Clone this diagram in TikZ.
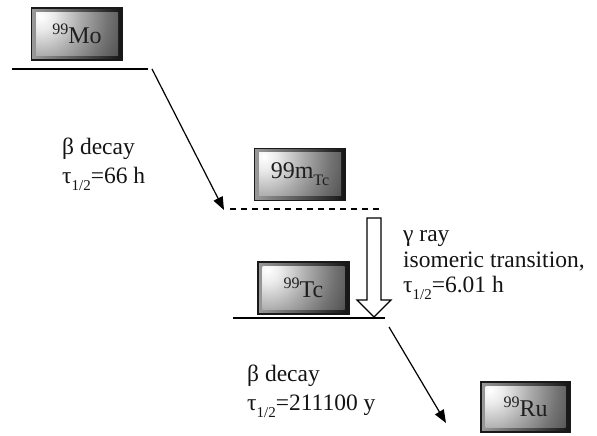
\documentclass[tikz,border=0pt]{standalone}
\usepackage{fontspec}
\setmainfont{Liberation Serif}
\usetikzlibrary{arrows.meta,calc}

% concentric glow for the face of a plate (25bp = radius of the shaded circle)
\pgfdeclareradialshading{plateglow}{\pgfpoint{0bp}{0bp}}{%
  color(0bp)=(white);
  color(3bp)=(black!8);
  color(9bp)=(black!33);
  color(15bp)=(black!55);
  color(21bp)=(black!72);
  color(25bp)=(black!80);
  color(50bp)=(black!80)}

\newcommand\halflife{τ\raisebox{-0.28em}{\fontsize{15}{15}\selectfont 1/2}}
\newcommand\sups[1]{\raisebox{0.36em}{\fontsize{16}{16}\selectfont #1}}
\newcommand\subs[1]{\raisebox{-0.3em}{\fontsize{16}{16}\selectfont #1}}

\begin{document}
\begin{tikzpicture}[x=1pt,y=1pt,
  plate/.style={draw=black!90, line width=1.2pt,
    minimum width=91pt, minimum height=52pt, inner sep=0pt,
    text=black!88, font=\fontsize{24}{24}\selectfont,
    path picture={
      \coordinate (pSW) at (path picture bounding box.south west);
      \coordinate (pNE) at (path picture bounding box.north east);
      \coordinate (pNW) at (path picture bounding box.north west);
      % bevel frame
      \shade[left color=black!40, right color=black!92] (pSW) rectangle (pNE);
      % face
      \begin{scope}
        \clip ($(pSW)+(4.5,4.5)$) rectangle ($(pNE)-(4.5,4.5)$);
        \shade[shading=plateglow] ($(pNW)+(9,-8)$) circle (112);
      \end{scope}
    }},
  level/.style={line width=2.4pt},
  decayarrow/.style={line width=1.2pt, -{Triangle[length=13pt,width=10pt]}},
  note/.style={anchor=base west, align=left, inner sep=0pt, text=black!92}]
\useasboundingbox (0,0) rectangle (597,436);

% nuclide plates
\node[plate] (mo) at (77,402) {\sups{99}Mo};
\node[plate] (tcm) at (300,261.5) {99m\subs{Tc}};
\node[plate] (tc) at (303.5,148) {\sups{99}Tc};
\node[plate, minimum width=89pt, minimum height=50pt] (ru) at (525.5,29) {\sups{99}Ru};

% energy levels
\coordinate (moL) at (12,367);
\coordinate (moR) at (148,367);
\coordinate (tcmL) at (230,227);
\coordinate (tcmR) at (381,227);
\coordinate (tcL) at (233,118);
\coordinate (tcR) at (385,118);
\draw[level] (moL) -- (moR);
\draw[level, dash pattern=on 6pt off 5pt] (tcmL) -- (tcmR);
\draw[level] (tcL) -- (tcR);

% beta decays
\coordinate (b1s) at (152,367);
\coordinate (b1e) at (224,226);
\coordinate (b2s) at (389,109);
\coordinate (b2e) at (446,13);
\draw[decayarrow] (b1s) -- (b1e);
\draw[decayarrow] (b2s) -- (b2e);

% isomeric transition: hollow block arrow
\coordinate (gtop) at (374,218);
\coordinate (gtip) at (374,119);
\draw[line width=1.2pt, fill=white, line join=miter]
  ($(gtop)+(-7,0)$) -- ($(gtop)+(7,0)$) -- (381,136) -- (391,136) -- (gtip)
  -- (357,136) -- (367,136) -- cycle;

% annotations (anchored at the baseline of their last line)
\node[note, font=\fontsize{23.5}{29}\selectfont] (t1) at (62,252)
  {β decay\\\halflife=66 h};
\node[note, font=\fontsize{23.5}{25.5}\selectfont] (t2) at (403,143)
  {γ ray\\isomeric transition,\\\halflife=6.01 h};
\node[note, font=\fontsize{23.5}{29}\selectfont] (t3) at (247,25)
  {β decay\\\halflife=211100 y};
\end{tikzpicture}
\end{document}
